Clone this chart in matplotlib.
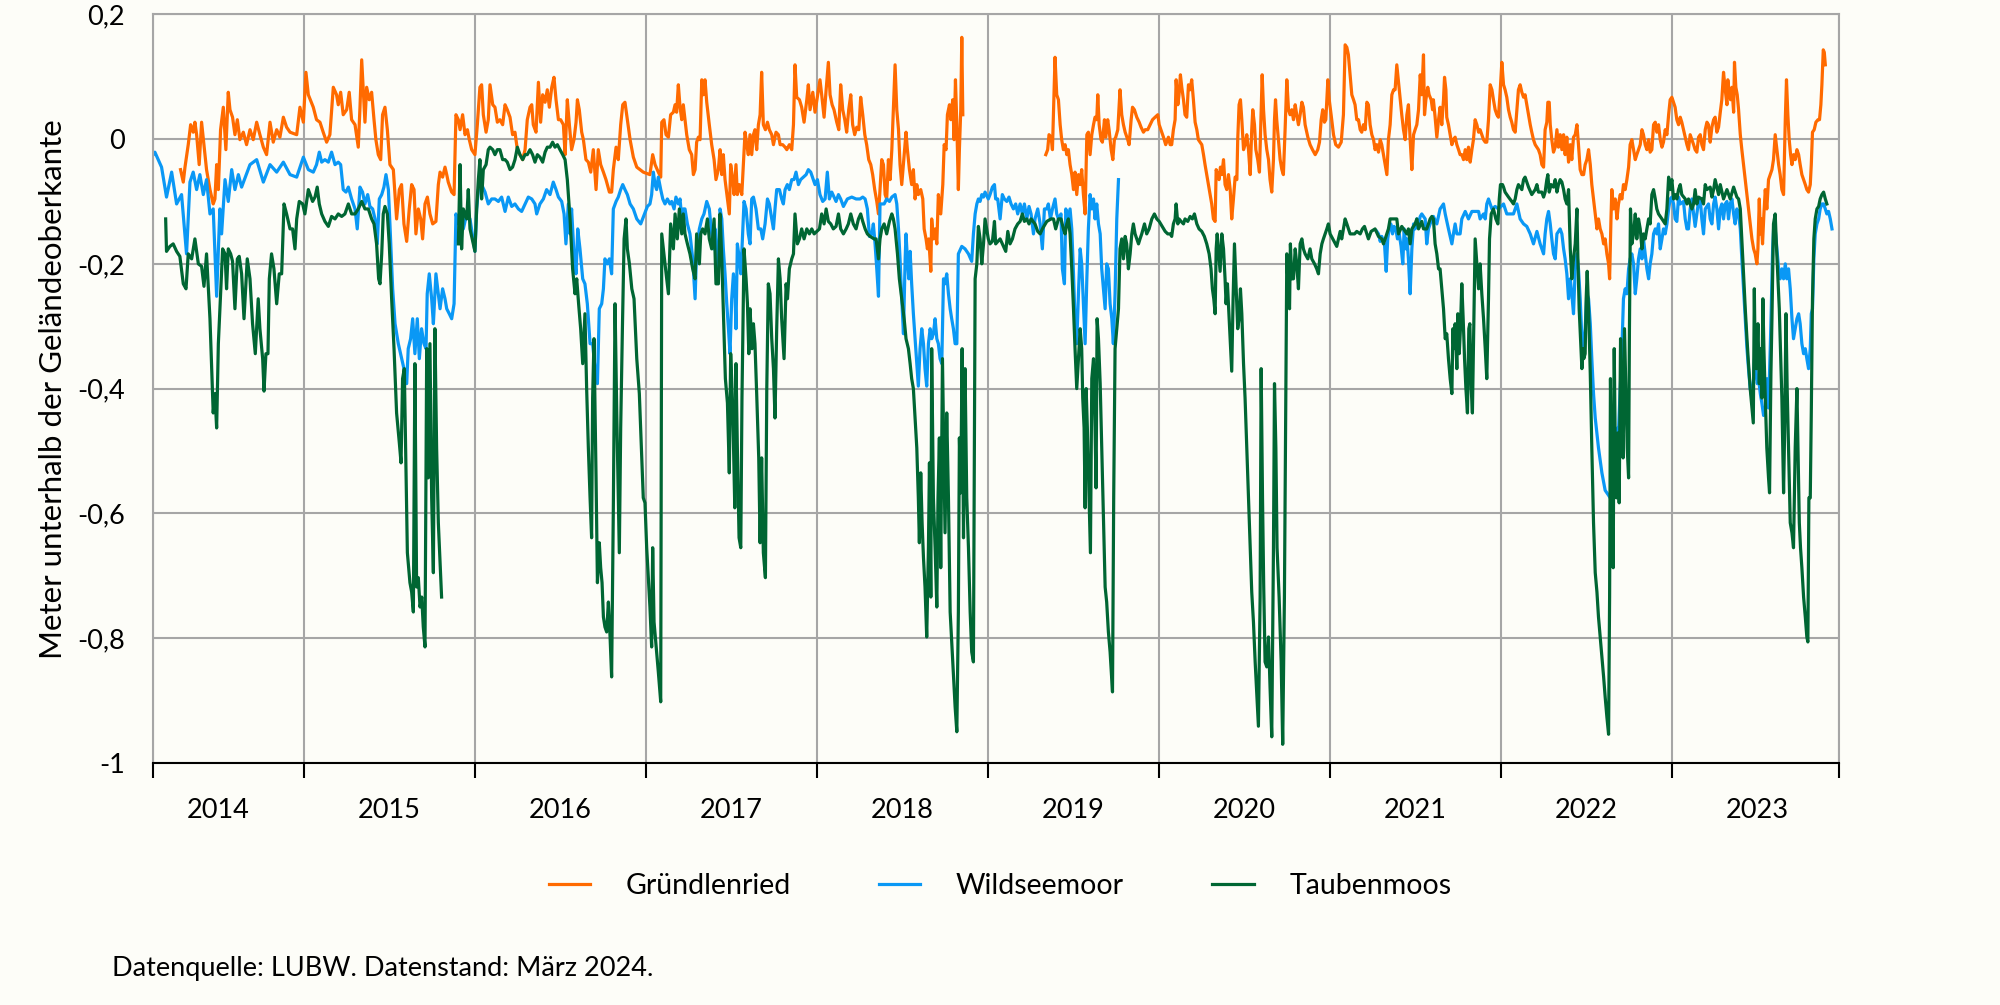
import numpy as np
import matplotlib
matplotlib.use("Agg")
import matplotlib.pyplot as plt

plt.rcParams['font.family'] = ['Lato', 'DejaVu Sans']

# (decimal year, metres); None = no data
gruendlenried = [
    (2014.281,-0.049),(2014.297,-0.069),(2014.307,-0.045),(2014.326,-0.009),(2014.340,0.023),(2014.355,0.011),
    (2014.365,0.027),(2014.375,0.007),(2014.390,-0.041),(2014.404,0.027),(2014.418,-0.009),(2014.433,-0.049),
    (2014.453,-0.081),(2014.472,-0.104),(2014.482,-0.096),(2014.492,-0.041),(2014.502,-0.081),(2014.515,0.015),
    (2014.531,0.051),(2014.546,-0.017),(2014.560,0.075),(2014.570,0.047),(2014.585,0.035),(2014.599,0.007),
    (2014.613,0.031),(2014.628,-0.001),(2014.648,0.011),(2014.667,-0.009),(2014.687,0.015),(2014.706,-0.001),
    (2014.726,0.027),(2014.745,0.007),(2014.765,-0.013),(2014.784,-0.025),(2014.804,0.027),(2014.823,-0.005),
    (2014.843,0.015),(2014.862,0.003),(2014.882,0.035),(2014.901,0.019),(2014.921,0.011),(2014.960,0.007),
    (2014.979,0.051),(2014.999,0.027),(2015.014,0.107),(2015.028,0.071),
    (2015.057,0.051),(2015.076,0.031),(2015.096,0.027),(2015.115,0.011),(2015.135,-0.005),(2015.154,0.007),
    (2015.174,0.083),(2015.193,0.071),(2015.203,0.055),(2015.217,0.075),(2015.232,0.039),(2015.252,0.047),
    (2015.267,0.075),(2015.281,0.031),(2015.301,0.023),(2015.320,-0.013),(2015.330,0.051),(2015.340,0.127),
    (2015.349,0.079),(2015.359,0.027),(2015.369,0.083),(2015.384,0.063),(2015.398,0.075),(2015.412,0.031),
    (2015.423,-0.001),(2015.437,-0.025),(2015.451,-0.033),(2015.462,0.039),(2015.476,0.051),(2015.490,0.015),
    (2015.505,-0.041),(2015.525,-0.049),(2015.544,-0.128),(2015.560,-0.081),(2015.573,-0.073),(2015.587,-0.136),
    (2015.603,-0.164),(2015.618,-0.112),(2015.632,-0.073),(2015.646,-0.081),(2015.657,-0.152),(2015.671,-0.112),
    (2015.685,-0.128),(2015.696,-0.160),(2015.710,-0.104),(2015.724,-0.093),(2015.739,-0.120),(2015.755,-0.136),
    (2015.774,-0.132),(2015.788,-0.073),(2015.798,-0.053),(2015.813,-0.061),(2015.827,-0.045),(2015.837,-0.057),
    (2015.846,-0.069),(2015.866,-0.085),(2015.880,-0.089),(2015.891,0.039),(2015.905,0.031),(2015.915,0.015),
    (2015.930,0.039),(2015.944,0.007),(2015.958,0.015),(2015.969,-0.001),(2015.983,-0.017),
    (2016.002,-0.025),(2016.016,0.023),(2016.031,0.083),(2016.041,0.087),(2016.051,0.039),(2016.067,0.011),
    (2016.080,0.031),(2016.090,0.087),(2016.106,0.055),(2016.119,0.051),(2016.133,0.027),(2016.148,0.031),
    (2016.164,0.023),(2016.178,0.055),(2016.191,0.047),(2016.207,0.035),(2016.222,0.007),(2016.236,0.011),
    (2016.250,-0.017),(2016.265,-0.025),(2016.281,-0.033),(2016.295,-0.017),(2016.308,0.031),(2016.324,0.051),
    (2016.334,0.055),(2016.343,0.023),(2016.359,0.011),(2016.373,0.091),(2016.386,0.027),(2016.398,0.071),
    (2016.412,0.059),(2016.425,0.079),(2016.437,0.051),(2016.451,0.083),(2016.464,0.099),(2016.476,0.063),
    (2016.490,0.031),(2016.503,0.031),(2016.519,0.023),(2016.529,-0.025),(2016.542,0.063),(2016.554,0.023),
    (2016.567,-0.017),(2016.581,-0.001),(2016.593,0.027),(2016.601,0.063),(2016.612,0.047),(2016.626,0.011),
    (2016.636,-0.001),(2016.651,-0.033),(2016.665,-0.037),(2016.679,-0.053),(2016.694,-0.017),(2016.710,-0.081),
    (2016.723,-0.017),(2016.737,-0.041),(2016.753,-0.053),(2016.768,-0.065),(2016.788,-0.085),(2016.801,-0.085),
    (2016.811,-0.049),(2016.827,-0.013),(2016.840,-0.033),(2016.854,0.023),(2016.866,0.055),(2016.879,0.059),
    (2016.893,0.031),(2016.909,-0.001),(2016.928,-0.029),(2016.948,-0.045),(2016.967,-0.049),(2016.986,-0.053),
    (2017.025,-0.057),(2017.041,-0.025),(2017.055,-0.041),(2017.074,-0.053),(2017.088,-0.061),(2017.094,0.027),
    (2017.107,0.031),(2017.119,0.007),(2017.133,0.003),(2017.146,0.039),(2017.162,0.043),(2017.172,0.055),
    (2017.181,0.043),(2017.191,0.087),(2017.201,0.051),(2017.211,0.031),(2017.220,0.055),(2017.230,0.031),
    (2017.240,0.007),(2017.255,-0.017),(2017.269,-0.025),(2017.279,-0.057),(2017.289,-0.049),(2017.298,-0.005),
    (2017.308,0.003),(2017.318,-0.001),(2017.328,0.095),(2017.337,0.071),(2017.347,0.095),(2017.357,0.059),
    (2017.372,0.023),(2017.386,-0.009),(2017.400,-0.033),(2017.411,-0.065),(2017.425,-0.049),(2017.435,-0.017),
    (2017.445,-0.057),(2017.454,-0.025),(2017.464,-0.065),(2017.478,-0.096),(2017.489,-0.120),(2017.497,-0.041),
    (2017.509,-0.065),(2017.517,-0.089),(2017.528,-0.041),(2017.536,-0.089),(2017.548,-0.073),(2017.562,-0.089),
    (2017.571,-0.041),(2017.581,0.011),(2017.591,-0.009),(2017.600,-0.025),(2017.610,0.007),(2017.620,-0.025),
    (2017.630,0.007),(2017.639,0.015),(2017.649,-0.017),(2017.659,0.023),(2017.669,0.039),(2017.678,0.107),
    (2017.688,0.023),(2017.700,0.015),(2017.712,0.027),(2017.723,0.015),(2017.737,0.007),(2017.747,-0.009),
    (2017.762,0.011),(2017.776,0.007),(2017.786,-0.009),(2017.801,-0.009),(2017.815,-0.013),(2017.825,-0.017),
    (2017.840,-0.009),(2017.854,-0.017),(2017.864,0.023),(2017.873,0.119),(2017.883,0.067),(2017.899,0.063),
    (2017.912,0.051),(2017.926,0.027),(2017.942,0.063),(2017.951,0.087),(2017.961,0.047),(2017.977,0.075),
    (2017.990,0.043),
    (2018.019,0.095),(2018.029,0.071),(2018.043,0.035),(2018.055,0.079),(2018.068,0.123),(2018.078,0.071),
    (2018.090,0.055),(2018.101,0.047),(2018.117,0.027),(2018.129,0.015),(2018.140,0.087),(2018.152,0.047),
    (2018.164,0.031),(2018.175,0.011),(2018.187,0.047),(2018.199,0.071),(2018.210,0.023),(2018.222,0.007),
    (2018.234,0.019),(2018.246,0.015),(2018.257,0.067),(2018.269,0.039),(2018.281,0.007),(2018.292,-0.009),
    (2018.304,-0.033),(2018.316,-0.041),(2018.327,-0.057),(2018.339,-0.081),(2018.351,-0.100),(2018.361,-0.120),
    (2018.370,-0.081),(2018.380,-0.033),(2018.390,-0.041),(2018.400,-0.089),(2018.409,-0.096),(2018.419,-0.033),
    (2018.429,-0.065),(2018.439,-0.017),(2018.448,0.047),(2018.458,0.119),(2018.468,0.047),(2018.478,0.015),
    (2018.487,-0.041),(2018.497,-0.073),(2018.511,-0.025),(2018.522,0.011),(2018.530,-0.017),(2018.542,-0.049),
    (2018.555,-0.073),(2018.565,-0.049),(2018.575,-0.096),(2018.585,-0.073),(2018.594,-0.089),(2018.608,-0.081),
    (2018.620,-0.096),(2018.628,-0.144),(2018.639,-0.160),(2018.647,-0.176),(2018.655,-0.160),(2018.667,-0.212),
    (2018.672,-0.128),(2018.682,-0.160),(2018.692,-0.144),(2018.702,-0.168),(2018.711,-0.089),(2018.725,-0.120),
    (2018.737,-0.073),(2018.745,-0.009),(2018.756,-0.017),(2018.764,0.039),(2018.776,0.055),(2018.784,0.031),
    (2018.795,0.063),(2018.803,-0.001),(2018.811,0.095),(2018.819,0.023),(2018.828,-0.081),(2018.834,-0.017),
    (2018.842,0.047),(2018.848,0.163),(2018.854,0.039),
    (2018.900,None),
    (2019.339,-0.025),(2019.350,-0.017),(2019.358,0.007),(2019.370,0.003),(2019.378,-0.017),(2019.386,0.063),
    (2019.393,0.131),(2019.403,0.071),(2019.413,0.063),(2019.423,0.023),(2019.432,-0.001),(2019.442,-0.017),
    (2019.452,-0.009),(2019.462,-0.025),(2019.471,-0.017),(2019.481,-0.041),(2019.491,-0.057),(2019.501,-0.081),
    (2019.510,-0.053),(2019.520,-0.089),(2019.530,-0.057),(2019.540,-0.073),(2019.549,-0.049),(2019.559,-0.089),
    (2019.569,-0.120),(2019.579,0.007),(2019.588,0.011),(2019.598,-0.025),(2019.608,0.007),(2019.618,0.023),
    (2019.627,0.035),(2019.637,0.031),(2019.643,0.071),(2019.651,0.023),(2019.662,-0.001),(2019.670,-0.005),
    (2019.682,0.031),(2019.690,0.003),(2019.701,0.031),(2019.709,0.015),(2019.721,-0.017),(2019.731,-0.033),
    (2019.740,-0.001),(2019.748,0.003),(2019.760,0.015),(2019.773,0.079),(2019.783,0.039),(2019.793,0.023),
    (2019.803,0.011),(2019.818,-0.001),(2019.826,-0.009),(2019.838,0.031),(2019.846,0.051),(2019.857,0.047),
    (2019.871,0.035),(2019.885,0.027),(2019.896,0.019),(2019.910,0.011),(2019.920,0.015),(2019.935,0.015),
    (2019.949,0.023),(2019.963,0.031),(2019.978,0.035),(2019.994,0.039),(2020.002,0.023),(2020.017,0.011),
    (2020.027,0.003),(2020.040,-0.009),(2020.056,0.003),(2020.066,-0.009),(2020.075,-0.009),(2020.085,0.015),
    (2020.095,0.031),(2020.101,0.095),(2020.111,0.055),(2020.118,0.071),(2020.126,0.103),(2020.134,0.083),
    (2020.144,0.063),(2020.153,0.039),(2020.163,0.035),(2020.173,0.087),(2020.183,0.079),(2020.192,0.095),
    (2020.202,0.063),(2020.212,0.027),(2020.222,0.015),(2020.231,-0.001),(2020.251,-0.009),(2020.261,-0.025),
    (2020.270,-0.041),(2020.280,-0.057),(2020.290,-0.073),(2020.300,-0.089),(2020.309,-0.104),(2020.319,-0.128),
    (2020.329,-0.132),(2020.335,-0.049),(2020.344,-0.057),(2020.352,-0.065),(2020.360,-0.045),(2020.368,-0.057),
    (2020.378,-0.033),(2020.387,-0.073),(2020.397,-0.081),(2020.407,-0.057),(2020.417,-0.081),(2020.426,-0.128),
    (2020.436,-0.096),(2020.446,-0.061),(2020.456,-0.065),(2020.461,-0.001),(2020.469,0.055),(2020.477,0.063),
    (2020.485,0.031),(2020.495,-0.017),(2020.504,-0.009),(2020.514,0.007),(2020.524,-0.017),(2020.534,-0.057),
    (2020.543,0.015),(2020.549,0.047),(2020.559,0.023),(2020.567,-0.017),(2020.578,-0.033),(2020.588,-0.053),
    (2020.598,0.047),(2020.604,0.103),(2020.612,0.047),(2020.621,0.007),(2020.631,-0.017),(2020.641,-0.033),
    (2020.650,-0.065),(2020.660,-0.085),(2020.670,-0.033),(2020.676,0.031),(2020.682,0.063),(2020.689,0.031),
    (2020.699,-0.001),(2020.709,-0.033),(2020.719,-0.049),(2020.728,-0.057),(2020.738,0.015),(2020.748,0.095),
    (2020.758,0.047),(2020.767,0.039),(2020.777,0.047),(2020.787,0.031),(2020.797,0.055),(2020.806,0.039),
    (2020.816,0.023),(2020.826,0.039),(2020.836,0.059),(2020.845,0.051),(2020.855,0.023),(2020.871,0.003),
    (2020.884,-0.009),(2020.898,-0.017),(2020.914,-0.025),(2020.929,-0.017),(2020.939,-0.005),(2020.949,0.031),
    (2020.958,0.047),(2020.968,0.027),(2020.976,0.031),(2020.988,0.095),(2020.996,0.063),(2021.007,0.039),
    (2021.021,0.007),(2021.034,-0.009),(2021.050,-0.013),(2021.066,-0.005),(2021.079,0.039),(2021.089,0.151),
    (2021.099,0.147),(2021.108,0.135),(2021.118,0.103),(2021.128,0.071),(2021.138,0.063),(2021.147,0.055),
    (2021.157,0.031),(2021.167,0.031),(2021.177,0.015),(2021.186,0.011),(2021.196,0.023),(2021.206,0.015),
    (2021.216,0.059),(2021.225,0.055),(2021.235,0.023),(2021.245,0.007),(2021.255,-0.001),(2021.264,-0.017),
    (2021.274,-0.009),(2021.284,-0.021),(2021.294,-0.001),(2021.303,-0.009),(2021.313,-0.025),(2021.323,-0.041),
    (2021.333,-0.057),(2021.342,-0.001),(2021.352,0.023),(2021.362,0.071),(2021.372,0.079),(2021.381,0.079),
    (2021.391,0.119),(2021.401,0.091),(2021.411,0.063),(2021.420,0.039),(2021.430,0.015),(2021.440,-0.001),
    (2021.450,0.039),(2021.459,0.055),(2021.469,-0.001),(2021.479,-0.049),(2021.489,0.007),(2021.498,0.015),
    (2021.508,0.023),(2021.518,0.047),(2021.528,0.103),(2021.537,0.071),(2021.547,0.135),(2021.553,0.039),
    (2021.561,0.063),(2021.572,0.083),(2021.580,0.071),(2021.592,0.063),(2021.600,0.047),(2021.605,0.063),
    (2021.615,0.035),(2021.625,0.003),(2021.635,0.031),(2021.644,0.051),(2021.654,0.023),(2021.664,0.063),
    (2021.670,0.099),(2021.678,0.079),(2021.683,0.035),(2021.693,0.023),(2021.703,0.007),(2021.713,-0.009),
    (2021.722,-0.001),(2021.732,0.003),(2021.742,-0.009),(2021.752,-0.017),(2021.761,-0.025),(2021.771,-0.025),
    (2021.781,-0.033),(2021.791,-0.017),(2021.800,-0.033),(2021.810,-0.013),(2021.820,-0.037),(2021.830,-0.017),
    (2021.839,-0.001),(2021.849,0.031),(2021.859,0.023),(2021.869,0.011),(2021.878,0.015),(2021.888,0.007),
    (2021.898,-0.001),(2021.908,-0.005),(2021.917,-0.005),(2021.927,0.031),(2021.937,0.087),(2021.947,0.079),
    (2021.956,0.063),(2021.966,0.047),(2021.976,0.039),(2021.985,0.035),(2021.995,0.075),(2022.005,0.123),
    (2022.015,0.087),(2022.024,0.079),(2022.034,0.067),(2022.044,0.047),(2022.054,0.035),(2022.063,0.027),
    (2022.073,0.015),(2022.083,0.011),(2022.093,0.047),(2022.102,0.079),(2022.112,0.087),(2022.122,0.075),
    (2022.132,0.067),(2022.141,0.071),(2022.151,0.055),(2022.161,0.039),(2022.171,0.023),(2022.180,0.011),
    (2022.190,-0.001),(2022.200,-0.009),(2022.219,-0.017),(2022.229,-0.025),(2022.239,-0.041),(2022.249,-0.045),
    (2022.258,0.015),(2022.268,0.027),(2022.274,0.059),(2022.282,0.059),(2022.288,0.023),(2022.297,-0.001),
    (2022.307,-0.021),(2022.317,-0.013),(2022.327,0.015),(2022.336,-0.013),(2022.346,0.007),(2022.356,-0.017),
    (2022.366,0.007),(2022.375,-0.025),(2022.385,0.003),(2022.395,-0.037),(2022.405,-0.009),(2022.414,-0.033),
    (2022.424,0.003),(2022.434,0.007),(2022.444,0.023),(2022.453,-0.009),(2022.463,-0.049),(2022.473,-0.057),
    (2022.483,-0.057),(2022.492,-0.041),(2022.502,-0.033),(2022.512,-0.017),(2022.522,-0.041),(2022.531,-0.073),
    (2022.541,-0.096),(2022.551,-0.120),(2022.561,-0.144),(2022.570,-0.128),(2022.580,-0.144),(2022.590,-0.152),
    (2022.600,-0.168),(2022.609,-0.160),(2022.619,-0.184),(2022.629,-0.200),(2022.635,-0.224),(2022.643,-0.128),
    (2022.648,-0.081),(2022.658,-0.112),(2022.668,-0.096),(2022.678,-0.128),(2022.687,-0.104),(2022.697,-0.089),
    (2022.707,-0.096),(2022.716,-0.073),(2022.726,-0.081),(2022.736,-0.065),(2022.746,-0.045),(2022.755,-0.009),
    (2022.765,-0.001),(2022.775,-0.017),(2022.785,-0.033),(2022.794,-0.025),(2022.804,-0.017),(2022.814,-0.009),
    (2022.824,0.015),(2022.833,0.007),(2022.843,-0.009),(2022.853,-0.017),(2022.863,-0.001),(2022.872,-0.021),
    (2022.882,-0.017),(2022.892,0.023),(2022.902,0.027),(2022.911,0.011),(2022.921,0.023),(2022.931,-0.001),
    (2022.941,-0.013),(2022.950,-0.005),(2022.960,0.015),(2022.970,0.007),(2022.980,0.039),(2022.989,0.063),
    (2022.999,0.067),(2023.018,0.051),(2023.028,0.031),(2023.038,0.023),(2023.048,0.035),(2023.057,0.027),
    (2023.067,0.015),(2023.077,0.003),(2023.087,-0.009),(2023.096,-0.017),(2023.106,0.007),(2023.116,-0.001),
    (2023.126,-0.009),(2023.135,-0.017),(2023.145,-0.021),(2023.155,0.003),(2023.165,0.007),(2023.174,-0.009),
    (2023.184,-0.017),(2023.194,0.015),(2023.204,0.027),(2023.213,0.023),(2023.223,-0.005),(2023.233,0.019),
    (2023.243,0.031),(2023.252,0.035),(2023.262,0.011),(2023.272,0.019),(2023.282,0.043),(2023.291,0.063),
    (2023.301,0.107),(2023.311,0.079),(2023.321,0.055),(2023.326,0.095),(2023.334,0.075),(2023.342,0.063),
    (2023.350,0.083),(2023.360,0.043),(2023.365,0.123),(2023.373,0.083),(2023.381,0.071),(2023.389,0.047),
    (2023.399,0.007),(2023.408,-0.017),(2023.418,-0.041),(2023.428,-0.065),(2023.438,-0.089),(2023.447,-0.112),
    (2023.457,-0.136),(2023.467,-0.160),(2023.477,-0.176),(2023.486,-0.184),(2023.496,-0.200),(2023.502,-0.176),
    (2023.510,-0.096),(2023.516,-0.152),(2023.521,-0.128),(2023.529,-0.168),(2023.537,-0.120),(2023.545,-0.081),
    (2023.554,-0.112),(2023.564,-0.065),(2023.574,-0.057),(2023.584,-0.049),(2023.593,-0.033),(2023.603,0.007),
    (2023.613,-0.017),(2023.623,-0.041),(2023.632,-0.057),(2023.642,-0.081),(2023.652,-0.089),(2023.662,0.031),
    (2023.669,0.095),(2023.677,0.039),(2023.685,-0.001),(2023.693,-0.025),(2023.701,-0.041),(2023.710,-0.025),
    (2023.720,-0.033),(2023.730,-0.017),(2023.740,-0.025),(2023.749,-0.041),(2023.759,-0.057),(2023.769,-0.065),
    (2023.779,-0.073),(2023.788,-0.081),(2023.798,-0.085),(2023.808,-0.073),(2023.814,-0.041),(2023.821,0.011),
    (2023.831,0.015),(2023.841,0.027),(2023.853,0.031),(2023.862,0.031),(2023.870,0.055),(2023.876,0.087),
    (2023.884,0.143),(2023.890,0.139),(2023.896,0.119),
]

wildseemoor = [
    (2014.112,-0.029),(2014.131,-0.021),(2014.170,-0.045),(2014.199,-0.093),(2014.229,-0.053),(2014.258,-0.104),
    (2014.287,-0.089),(2014.316,-0.184),(2014.336,-0.069),(2014.355,-0.053),(2014.375,-0.081),(2014.394,-0.057),
    (2014.414,-0.089),(2014.433,-0.065),(2014.453,-0.120),(2014.472,-0.112),(2014.492,-0.252),(2014.511,-0.112),
    (2014.521,-0.152),(2014.541,-0.065),(2014.560,-0.100),(2014.580,-0.049),(2014.599,-0.081),(2014.619,-0.057),
    (2014.638,-0.077),(2014.687,-0.041),(2014.726,-0.033),(2014.765,-0.069),(2014.804,-0.041),(2014.843,-0.053),
    (2014.882,-0.037),(2014.921,-0.057),(2014.960,-0.061),(2014.999,-0.029),(2015.028,-0.049),
    (2015.057,-0.053),(2015.076,-0.041),(2015.092,-0.021),(2015.106,-0.037),(2015.125,-0.033),(2015.145,-0.037),
    (2015.164,-0.021),(2015.184,-0.041),(2015.203,-0.037),(2015.217,-0.041),(2015.232,-0.081),(2015.248,-0.085),
    (2015.262,-0.077),(2015.281,-0.096),(2015.301,-0.112),(2015.314,-0.144),(2015.330,-0.077),(2015.345,-0.085),
    (2015.359,-0.104),(2015.375,-0.089),(2015.388,-0.108),(2015.404,-0.112),(2015.418,-0.128),(2015.431,-0.168),
    (2015.443,-0.096),(2015.457,-0.089),(2015.470,-0.077),(2015.482,-0.057),(2015.496,-0.081),(2015.505,-0.136),
    (2015.521,-0.240),(2015.535,-0.296),(2015.554,-0.328),(2015.574,-0.352),(2015.587,-0.368),(2015.603,-0.392),
    (2015.612,-0.336),(2015.626,-0.320),(2015.638,-0.288),(2015.651,-0.344),(2015.665,-0.288),(2015.677,-0.352),
    (2015.690,-0.304),(2015.704,-0.328),(2015.716,-0.336),(2015.723,-0.248),(2015.735,-0.216),(2015.749,-0.256),
    (2015.759,-0.296),(2015.774,-0.216),(2015.788,-0.248),(2015.798,-0.272),(2015.813,-0.240),(2015.827,-0.256),
    (2015.837,-0.272),(2015.852,-0.280),(2015.866,-0.288),(2015.880,-0.264),(2015.891,-0.120),(2015.905,-0.136),
    (2015.919,-0.120),(2015.934,-0.144),(2015.954,-0.120),(2015.973,-0.128),
    (2016.002,-0.180),(2016.012,-0.112),(2016.022,-0.081),(2016.041,-0.073),(2016.061,-0.085),(2016.080,-0.104),
    (2016.100,-0.096),(2016.119,-0.096),(2016.139,-0.100),(2016.158,-0.093),(2016.178,-0.116),(2016.197,-0.093),
    (2016.217,-0.108),(2016.236,-0.104),(2016.256,-0.112),(2016.275,-0.116),(2016.295,-0.104),(2016.314,-0.093),
    (2016.334,-0.096),(2016.353,-0.104),(2016.363,-0.120),(2016.382,-0.104),(2016.402,-0.096),(2016.421,-0.081),
    (2016.441,-0.089),(2016.460,-0.069),(2016.476,-0.081),(2016.490,-0.093),(2016.509,-0.100),(2016.523,-0.120),
    (2016.534,-0.168),(2016.548,-0.104),(2016.558,-0.152),(2016.567,-0.112),(2016.581,-0.184),(2016.593,-0.216),
    (2016.603,-0.144),(2016.616,-0.176),(2016.632,-0.224),(2016.645,-0.232),(2016.659,-0.264),(2016.675,-0.328),
    (2016.690,-0.328),(2016.704,-0.368),(2016.718,-0.392),(2016.729,-0.272),(2016.743,-0.264),(2016.753,-0.240),
    (2016.762,-0.192),(2016.776,-0.200),(2016.788,-0.192),(2016.801,-0.216),(2016.811,-0.112),(2016.827,-0.100),
    (2016.840,-0.093),(2016.854,-0.081),(2016.866,-0.073),(2016.879,-0.081),(2016.893,-0.089),(2016.909,-0.104),
    (2016.928,-0.112),(2016.948,-0.128),(2016.971,-0.136),
    (2017.010,-0.108),(2017.025,-0.104),(2017.035,-0.089),(2017.045,-0.053),(2017.055,-0.073),(2017.064,-0.081),
    (2017.074,-0.061),(2017.088,-0.081),(2017.100,-0.096),(2017.113,-0.104),(2017.127,-0.096),(2017.142,-0.104),
    (2017.152,-0.100),(2017.166,-0.112),(2017.177,-0.093),(2017.191,-0.104),(2017.201,-0.096),(2017.211,-0.128),
    (2017.220,-0.112),(2017.230,-0.112),(2017.244,-0.136),(2017.259,-0.152),(2017.275,-0.192),(2017.289,-0.256),
    (2017.298,-0.176),(2017.314,-0.144),(2017.328,-0.128),(2017.341,-0.120),(2017.357,-0.100),(2017.372,-0.112),
    (2017.386,-0.152),(2017.396,-0.176),(2017.406,-0.144),(2017.415,-0.216),(2017.425,-0.176),(2017.435,-0.112),
    (2017.445,-0.128),(2017.454,-0.176),(2017.464,-0.216),(2017.474,-0.264),(2017.484,-0.304),(2017.493,-0.344),
    (2017.503,-0.256),(2017.513,-0.216),(2017.523,-0.256),(2017.528,-0.304),(2017.536,-0.168),(2017.548,-0.192),
    (2017.556,-0.216),(2017.563,-0.176),(2017.575,-0.100),(2017.587,-0.112),(2017.600,-0.152),(2017.610,-0.168),
    (2017.620,-0.096),(2017.630,-0.093),(2017.645,-0.112),(2017.659,-0.144),(2017.673,-0.144),(2017.684,-0.160),
    (2017.698,-0.136),(2017.712,-0.096),(2017.723,-0.104),(2017.737,-0.128),(2017.747,-0.144),(2017.756,-0.112),
    (2017.766,-0.081),(2017.782,-0.081),(2017.795,-0.096),(2017.805,-0.104),(2017.815,-0.081),(2017.828,-0.073),
    (2017.840,-0.081),(2017.854,-0.065),(2017.867,-0.065),(2017.879,-0.053),(2017.893,-0.073),(2017.906,-0.065),
    (2017.922,-0.061),(2017.938,-0.057),(2017.951,-0.049),(2017.965,-0.053),(2017.990,-0.073),
    (2018.004,-0.065),(2018.019,-0.089),(2018.035,-0.100),(2018.049,-0.096),(2018.062,-0.053),(2018.074,-0.096),
    (2018.088,-0.085),(2018.101,-0.093),(2018.113,-0.100),(2018.127,-0.089),(2018.140,-0.096),(2018.156,-0.108),
    (2018.179,-0.096),(2018.205,-0.093),(2018.230,-0.096),(2018.253,-0.096),(2018.269,-0.093),(2018.283,-0.096),
    (2018.296,-0.112),(2018.308,-0.156),(2018.322,-0.152),(2018.331,-0.136),(2018.341,-0.168),(2018.351,-0.208),
    (2018.361,-0.252),(2018.370,-0.104),(2018.394,-0.104),(2018.409,-0.096),(2018.425,-0.100),(2018.439,-0.093),
    (2018.458,-0.089),(2018.468,-0.104),(2018.478,-0.144),(2018.487,-0.192),(2018.497,-0.256),(2018.507,-0.312),
    (2018.517,-0.192),(2018.522,-0.152),(2018.530,-0.192),(2018.538,-0.224),(2018.546,-0.180),(2018.555,-0.232),
    (2018.565,-0.280),(2018.575,-0.320),(2018.585,-0.360),(2018.594,-0.396),(2018.604,-0.336),(2018.614,-0.304),
    (2018.624,-0.328),(2018.633,-0.368),(2018.643,-0.396),(2018.653,-0.328),(2018.663,-0.304),(2018.672,-0.320),
    (2018.682,-0.312),(2018.692,-0.288),(2018.702,-0.320),(2018.711,-0.328),(2018.721,-0.352),(2018.731,-0.360),
    (2018.741,-0.224),(2018.750,-0.232),(2018.760,-0.216),(2018.770,-0.248),(2018.780,-0.272),(2018.789,-0.288),
    (2018.799,-0.304),(2018.809,-0.328),(2018.819,-0.328),(2018.828,-0.184),(2018.848,-0.172),(2018.867,-0.176),
    (2018.887,-0.184),(2018.906,-0.196),(2018.916,-0.152),(2018.926,-0.120),(2018.936,-0.104),(2018.945,-0.096),
    (2018.955,-0.100),(2018.965,-0.089),(2018.975,-0.093),(2018.984,-0.085),
    (2019.003,-0.096),(2019.013,-0.089),(2019.027,-0.077),(2019.039,-0.073),(2019.046,-0.096),(2019.058,-0.096),
    (2019.072,-0.128),(2019.085,-0.089),(2019.097,-0.096),(2019.111,-0.100),(2019.124,-0.093),(2019.136,-0.104),
    (2019.150,-0.112),(2019.163,-0.104),(2019.175,-0.120),(2019.189,-0.104),(2019.202,-0.120),(2019.214,-0.104),
    (2019.228,-0.128),(2019.241,-0.108),(2019.253,-0.120),(2019.267,-0.152),(2019.276,-0.128),(2019.292,-0.112),
    (2019.306,-0.136),(2019.319,-0.176),(2019.331,-0.112),(2019.345,-0.112),(2019.354,-0.104),(2019.366,-0.128),
    (2019.378,-0.112),(2019.393,-0.096),(2019.403,-0.120),(2019.413,-0.128),(2019.428,-0.120),(2019.436,-0.208),
    (2019.448,-0.232),(2019.456,-0.112),(2019.467,-0.128),(2019.481,-0.112),(2019.491,-0.144),(2019.501,-0.216),
    (2019.510,-0.288),(2019.520,-0.328),(2019.530,-0.248),(2019.540,-0.176),(2019.549,-0.200),(2019.559,-0.264),
    (2019.569,-0.328),(2019.579,-0.224),(2019.588,-0.144),(2019.598,-0.089),(2019.608,-0.112),(2019.618,-0.096),
    (2019.627,-0.128),(2019.637,-0.104),(2019.647,-0.136),(2019.657,-0.152),(2019.666,-0.208),(2019.676,-0.240),
    (2019.686,-0.272),(2019.695,-0.200),(2019.705,-0.208),(2019.715,-0.264),(2019.725,-0.288),(2019.734,-0.328),
    (2019.744,-0.248),(2019.754,-0.128),(2019.764,-0.065),
    (2019.800,None),
    (2021.274,-0.148),(2021.284,-0.152),(2021.294,-0.164),(2021.303,-0.156),(2021.319,-0.168),(2021.329,-0.212),
    (2021.338,-0.160),(2021.346,-0.144),(2021.356,-0.136),(2021.366,-0.152),(2021.375,-0.140),(2021.385,-0.144),
    (2021.395,-0.160),(2021.405,-0.152),(2021.416,-0.172),(2021.426,-0.200),(2021.434,-0.144),(2021.444,-0.176),
    (2021.451,-0.160),(2021.459,-0.192),(2021.469,-0.248),(2021.479,-0.176),(2021.489,-0.136),(2021.498,-0.144),
    (2021.508,-0.128),(2021.518,-0.136),(2021.528,-0.124),(2021.537,-0.120),(2021.557,-0.128),(2021.566,-0.168),
    (2021.576,-0.144),(2021.586,-0.136),(2021.605,-0.124),(2021.625,-0.136),(2021.644,-0.112),(2021.664,-0.104),
    (2021.674,-0.120),(2021.693,-0.144),(2021.713,-0.168),(2021.722,-0.152),(2021.732,-0.136),(2021.742,-0.152),
    (2021.761,-0.152),(2021.771,-0.128),(2021.791,-0.116),(2021.810,-0.128),(2021.830,-0.116),(2021.849,-0.116),
    (2021.869,-0.116),(2021.878,-0.128),(2021.898,-0.120),(2021.908,-0.128),(2021.917,-0.104),(2021.927,-0.096),
    (2021.947,-0.112),(2021.966,-0.108),(2021.985,-0.112),
    (2022.015,-0.104),(2022.034,-0.120),(2022.054,-0.120),(2022.073,-0.120),(2022.093,-0.104),(2022.112,-0.128),
    (2022.132,-0.136),(2022.151,-0.140),(2022.171,-0.152),(2022.190,-0.168),(2022.210,-0.148),(2022.229,-0.168),
    (2022.249,-0.184),(2022.258,-0.152),(2022.268,-0.128),(2022.278,-0.116),(2022.288,-0.136),(2022.297,-0.160),
    (2022.307,-0.184),(2022.317,-0.192),(2022.327,-0.152),(2022.346,-0.144),(2022.356,-0.152),(2022.366,-0.176),
    (2022.375,-0.192),(2022.385,-0.216),(2022.395,-0.256),(2022.405,-0.224),(2022.414,-0.248),(2022.424,-0.280),
    (2022.434,-0.208),(2022.444,-0.184),(2022.453,-0.208),(2022.463,-0.256),(2022.473,-0.320),(2022.483,-0.336),
    (2022.492,-0.304),(2022.502,-0.248),(2022.512,-0.256),(2022.522,-0.296),(2022.531,-0.352),(2022.541,-0.408),
    (2022.551,-0.447),(2022.570,-0.495),(2022.590,-0.535),(2022.609,-0.563),(2022.629,-0.571),(2022.638,-0.575),
    (2022.658,-0.567),(2022.668,-0.559),(2022.674,-0.487),(2022.681,-0.463),(2022.687,-0.471),(2022.697,-0.400),
    (2022.707,-0.336),(2022.716,-0.256),(2022.726,-0.240),(2022.736,-0.248),(2022.746,-0.208),(2022.755,-0.192),
    (2022.765,-0.184),(2022.775,-0.200),(2022.785,-0.248),(2022.794,-0.224),(2022.804,-0.192),(2022.814,-0.176),
    (2022.824,-0.192),(2022.833,-0.160),(2022.843,-0.184),(2022.853,-0.208),(2022.863,-0.224),(2022.872,-0.200),
    (2022.882,-0.184),(2022.892,-0.152),(2022.902,-0.144),(2022.911,-0.152),(2022.921,-0.136),(2022.931,-0.176),
    (2022.941,-0.160),(2022.950,-0.144),(2022.960,-0.152),(2022.970,-0.136),(2022.980,-0.112),(2022.989,-0.096),
    (2022.999,-0.093),
    (2023.009,-0.104),(2023.018,-0.128),(2023.028,-0.132),(2023.038,-0.093),(2023.048,-0.104),(2023.067,-0.100),
    (2023.077,-0.128),(2023.087,-0.144),(2023.096,-0.144),(2023.106,-0.112),(2023.116,-0.096),(2023.126,-0.120),
    (2023.135,-0.140),(2023.145,-0.120),(2023.155,-0.100),(2023.165,-0.096),(2023.174,-0.128),(2023.184,-0.152),
    (2023.194,-0.112),(2023.213,-0.104),(2023.223,-0.128),(2023.233,-0.136),(2023.243,-0.104),(2023.252,-0.093),
    (2023.262,-0.112),(2023.272,-0.144),(2023.282,-0.112),(2023.291,-0.104),(2023.301,-0.128),(2023.311,-0.104),
    (2023.321,-0.100),(2023.330,-0.128),(2023.340,-0.104),(2023.350,-0.096),(2023.360,-0.120),(2023.369,-0.136),
    (2023.379,-0.112),(2023.389,-0.120),(2023.399,-0.144),(2023.408,-0.192),(2023.418,-0.240),(2023.428,-0.288),
    (2023.438,-0.336),(2023.447,-0.368),(2023.457,-0.400),(2023.467,-0.415),(2023.477,-0.384),(2023.482,-0.352),
    (2023.490,-0.368),(2023.498,-0.392),(2023.506,-0.384),(2023.516,-0.408),(2023.525,-0.423),(2023.535,-0.443),
    (2023.545,-0.439),(2023.554,-0.384),(2023.564,-0.431),(2023.574,-0.336),(2023.580,-0.272),(2023.588,-0.176),
    (2023.595,-0.136),(2023.603,-0.144),(2023.613,-0.176),(2023.623,-0.208),(2023.632,-0.224),(2023.642,-0.208),
    (2023.652,-0.224),(2023.662,-0.200),(2023.671,-0.224),(2023.681,-0.208),(2023.691,-0.240),(2023.701,-0.288),
    (2023.710,-0.320),(2023.720,-0.304),(2023.730,-0.288),(2023.740,-0.280),(2023.749,-0.296),(2023.759,-0.328),
    (2023.769,-0.344),(2023.779,-0.336),(2023.788,-0.352),(2023.798,-0.368),(2023.808,-0.336),(2023.814,-0.280),
    (2023.821,-0.272),(2023.829,-0.192),(2023.837,-0.152),(2023.847,-0.136),(2023.857,-0.128),(2023.866,-0.112),
    (2023.876,-0.104),(2023.886,-0.104),(2023.896,-0.112),(2023.905,-0.120),(2023.915,-0.116),(2023.925,-0.128),
    (2023.935,-0.144),
]

taubenmoos = [
    (2014.194,-0.128),(2014.199,-0.180),(2014.219,-0.172),(2014.238,-0.168),(2014.258,-0.180),(2014.277,-0.188),
    (2014.297,-0.232),(2014.313,-0.240),(2014.326,-0.184),(2014.346,-0.192),(2014.365,-0.160),(2014.385,-0.200),
    (2014.404,-0.204),(2014.418,-0.236),(2014.433,-0.184),(2014.453,-0.288),(2014.472,-0.439),(2014.482,-0.408),
    (2014.492,-0.463),(2014.502,-0.328),(2014.515,-0.248),(2014.527,-0.176),(2014.541,-0.184),(2014.550,-0.240),
    (2014.560,-0.176),(2014.574,-0.184),(2014.585,-0.196),(2014.599,-0.272),(2014.613,-0.192),(2014.624,-0.188),
    (2014.638,-0.216),(2014.652,-0.288),(2014.671,-0.192),(2014.687,-0.224),(2014.702,-0.296),(2014.718,-0.344),
    (2014.735,-0.256),(2014.745,-0.304),(2014.761,-0.352),(2014.769,-0.404),(2014.780,-0.344),(2014.792,-0.344),
    (2014.800,-0.224),(2014.813,-0.184),(2014.827,-0.208),(2014.843,-0.264),(2014.858,-0.216),(2014.872,-0.216),
    (2014.886,-0.104),(2014.901,-0.120),(2014.921,-0.144),(2014.936,-0.144),(2014.950,-0.176),(2014.960,-0.128),
    (2014.975,-0.100),(2014.995,-0.104),(2015.008,-0.120),(2015.028,-0.081),
    (2015.053,-0.100),(2015.067,-0.093),(2015.080,-0.077),(2015.092,-0.104),(2015.106,-0.120),(2015.125,-0.132),
    (2015.145,-0.140),(2015.164,-0.124),(2015.184,-0.128),(2015.203,-0.120),(2015.223,-0.124),(2015.242,-0.120),
    (2015.262,-0.104),(2015.281,-0.120),(2015.301,-0.120),(2015.320,-0.112),(2015.340,-0.100),(2015.359,-0.112),
    (2015.379,-0.112),(2015.398,-0.128),(2015.412,-0.136),(2015.427,-0.168),(2015.439,-0.224),(2015.447,-0.232),
    (2015.457,-0.184),(2015.466,-0.120),(2015.476,-0.108),(2015.490,-0.120),(2015.501,-0.168),(2015.515,-0.256),
    (2015.529,-0.336),(2015.544,-0.439),(2015.560,-0.487),(2015.570,-0.519),(2015.579,-0.384),(2015.589,-0.368),
    (2015.599,-0.535),(2015.607,-0.663),(2015.622,-0.711),(2015.632,-0.726),(2015.642,-0.758),(2015.651,-0.360),
    (2015.661,-0.718),(2015.671,-0.703),(2015.681,-0.750),(2015.691,-0.734),(2015.700,-0.782),(2015.710,-0.814),
    (2015.720,-0.336),(2015.729,-0.543),(2015.739,-0.328),(2015.749,-0.575),(2015.759,-0.695),(2015.768,-0.304),
    (2015.778,-0.495),(2015.788,-0.615),(2015.798,-0.679),(2015.807,-0.734),
    (2015.850,None),
    (2015.905,-0.168),(2015.915,-0.041),(2015.924,-0.176),(2015.934,-0.112),(2015.954,-0.128),(2015.963,-0.081),
    (2015.973,-0.144),
    (2016.002,-0.180),(2016.012,-0.112),(2016.022,-0.065),(2016.031,-0.033),(2016.041,-0.096),(2016.051,-0.049),
    (2016.067,-0.041),(2016.080,-0.017),(2016.090,-0.013),(2016.106,-0.017),(2016.119,-0.025),(2016.133,-0.017),
    (2016.148,-0.017),(2016.164,-0.033),(2016.178,-0.033),(2016.191,-0.037),(2016.207,-0.049),(2016.222,-0.045),
    (2016.236,-0.033),(2016.250,-0.013),(2016.265,-0.025),(2016.281,-0.033),(2016.295,-0.025),(2016.308,-0.025),
    (2016.324,-0.017),(2016.339,-0.025),(2016.353,-0.037),(2016.367,-0.025),(2016.382,-0.029),(2016.398,-0.037),
    (2016.412,-0.021),(2016.425,-0.013),(2016.441,-0.013),(2016.456,-0.005),(2016.470,-0.013),(2016.484,-0.009),
    (2016.499,-0.017),(2016.515,-0.025),(2016.529,-0.033),(2016.542,-0.065),(2016.558,-0.128),(2016.573,-0.208),
    (2016.587,-0.248),(2016.597,-0.224),(2016.608,-0.264),(2016.620,-0.304),(2016.632,-0.360),(2016.645,-0.280),
    (2016.655,-0.400),(2016.665,-0.495),(2016.675,-0.575),(2016.684,-0.639),(2016.690,-0.415),(2016.698,-0.320),
    (2016.710,-0.543),(2016.718,-0.711),(2016.729,-0.647),(2016.737,-0.687),(2016.745,-0.711),(2016.753,-0.766),
    (2016.762,-0.782),(2016.772,-0.790),(2016.782,-0.742),(2016.792,-0.798),(2016.801,-0.862),(2016.811,-0.591),
    (2016.821,-0.264),(2016.831,-0.439),(2016.846,-0.663),(2016.854,-0.463),(2016.864,-0.304),(2016.874,-0.160),
    (2016.885,-0.128),(2016.893,-0.176),(2016.905,-0.200),(2016.919,-0.240),(2016.932,-0.256),(2016.948,-0.352),
    (2016.963,-0.408),(2016.986,-0.575),(2016.996,-0.583),
    (2017.006,-0.655),(2017.025,-0.750),(2017.035,-0.814),(2017.041,-0.655),(2017.049,-0.774),(2017.064,-0.822),
    (2017.074,-0.854),(2017.088,-0.902),(2017.094,-0.152),(2017.113,-0.200),(2017.133,-0.248),(2017.146,-0.136),
    (2017.162,-0.176),(2017.172,-0.120),(2017.185,-0.160),(2017.197,-0.112),(2017.211,-0.152),(2017.220,-0.120),
    (2017.230,-0.152),(2017.244,-0.168),(2017.259,-0.184),(2017.275,-0.208),(2017.289,-0.224),(2017.298,-0.152),
    (2017.314,-0.200),(2017.322,-0.152),(2017.333,-0.144),(2017.347,-0.152),(2017.361,-0.128),(2017.372,-0.160),
    (2017.386,-0.176),(2017.400,-0.128),(2017.411,-0.232),(2017.425,-0.232),(2017.435,-0.120),(2017.445,-0.192),
    (2017.454,-0.272),(2017.466,-0.384),(2017.478,-0.423),(2017.489,-0.535),(2017.497,-0.344),(2017.509,-0.431),
    (2017.521,-0.591),(2017.528,-0.360),(2017.536,-0.495),(2017.546,-0.639),(2017.556,-0.655),(2017.563,-0.415),
    (2017.575,-0.176),(2017.587,-0.224),(2017.595,-0.264),(2017.603,-0.344),(2017.610,-0.272),(2017.622,-0.336),
    (2017.630,-0.296),(2017.639,-0.328),(2017.649,-0.408),(2017.661,-0.511),(2017.669,-0.647),(2017.678,-0.511),
    (2017.688,-0.663),(2017.700,-0.703),(2017.708,-0.400),(2017.717,-0.232),(2017.727,-0.248),(2017.737,-0.320),
    (2017.747,-0.368),(2017.756,-0.447),(2017.766,-0.304),(2017.776,-0.192),(2017.786,-0.224),(2017.795,-0.288),
    (2017.809,-0.352),(2017.821,-0.232),(2017.829,-0.256),(2017.840,-0.208),(2017.854,-0.192),(2017.864,-0.184),
    (2017.873,-0.120),(2017.887,-0.168),(2017.899,-0.160),(2017.912,-0.144),(2017.926,-0.160),(2017.942,-0.144),
    (2017.957,-0.152),(2017.971,-0.144),(2017.985,-0.152),
    (2018.016,-0.144),(2018.029,-0.120),(2018.043,-0.136),(2018.055,-0.112),(2018.068,-0.132),(2018.082,-0.136),
    (2018.097,-0.144),(2018.113,-0.140),(2018.127,-0.120),(2018.140,-0.144),(2018.156,-0.152),(2018.172,-0.144),
    (2018.185,-0.136),(2018.199,-0.120),(2018.214,-0.136),(2018.230,-0.144),(2018.244,-0.128),(2018.257,-0.120),
    (2018.269,-0.132),(2018.283,-0.144),(2018.296,-0.152),(2018.312,-0.156),(2018.335,-0.160),(2018.347,-0.160),
    (2018.361,-0.192),(2018.370,-0.160),(2018.380,-0.144),(2018.394,-0.136),(2018.409,-0.152),(2018.425,-0.132),
    (2018.439,-0.120),(2018.448,-0.128),(2018.458,-0.144),(2018.472,-0.184),(2018.483,-0.224),(2018.497,-0.256),
    (2018.511,-0.288),(2018.522,-0.320),(2018.536,-0.336),(2018.546,-0.360),(2018.555,-0.384),(2018.565,-0.400),
    (2018.575,-0.447),(2018.585,-0.495),(2018.594,-0.575),(2018.600,-0.647),(2018.608,-0.535),(2018.616,-0.615),
    (2018.624,-0.671),(2018.633,-0.718),(2018.643,-0.798),(2018.653,-0.655),(2018.659,-0.519),(2018.667,-0.734),
    (2018.672,-0.336),(2018.682,-0.575),(2018.692,-0.655),(2018.702,-0.750),(2018.709,-0.575),(2018.717,-0.479),
    (2018.725,-0.687),(2018.735,-0.352),(2018.741,-0.463),(2018.750,-0.631),(2018.760,-0.439),(2018.770,-0.575),
    (2018.780,-0.758),(2018.789,-0.806),(2018.799,-0.862),(2018.809,-0.910),(2018.819,-0.950),(2018.828,-0.758),
    (2018.834,-0.479),(2018.842,-0.567),(2018.850,-0.336),(2018.858,-0.639),(2018.867,-0.368),(2018.877,-0.575),
    (2018.887,-0.655),(2018.897,-0.758),(2018.906,-0.822),(2018.916,-0.838),(2018.926,-0.224),(2018.936,-0.200),
    (2018.945,-0.140),(2018.955,-0.160),(2018.965,-0.200),(2018.975,-0.168),(2018.984,-0.128),
    (2019.003,-0.160),(2019.013,-0.168),(2019.027,-0.164),(2019.039,-0.132),(2019.046,-0.168),(2019.072,-0.160),
    (2019.085,-0.168),(2019.105,-0.180),(2019.117,-0.148),(2019.130,-0.168),(2019.144,-0.160),(2019.159,-0.144),
    (2019.175,-0.136),(2019.189,-0.132),(2019.202,-0.120),(2019.214,-0.132),(2019.228,-0.128),(2019.241,-0.136),
    (2019.253,-0.128),(2019.276,-0.136),(2019.292,-0.148),(2019.306,-0.152),(2019.319,-0.144),(2019.345,-0.132),
    (2019.370,-0.128),(2019.384,-0.128),(2019.397,-0.144),(2019.413,-0.128),(2019.428,-0.128),(2019.442,-0.144),
    (2019.452,-0.152),(2019.462,-0.136),(2019.471,-0.128),(2019.481,-0.152),(2019.491,-0.208),(2019.501,-0.272),
    (2019.510,-0.336),(2019.520,-0.400),(2019.530,-0.352),(2019.540,-0.304),(2019.549,-0.336),(2019.555,-0.415),
    (2019.563,-0.463),(2019.569,-0.591),(2019.575,-0.400),(2019.582,-0.463),(2019.592,-0.575),(2019.600,-0.663),
    (2019.608,-0.384),(2019.618,-0.352),(2019.627,-0.463),(2019.633,-0.559),(2019.639,-0.288),(2019.647,-0.320),
    (2019.657,-0.392),(2019.666,-0.495),(2019.676,-0.615),(2019.686,-0.718),(2019.695,-0.742),(2019.705,-0.790),
    (2019.715,-0.822),(2019.729,-0.886),(2019.736,-0.575),(2019.744,-0.336),(2019.754,-0.304),(2019.764,-0.272),
    (2019.773,-0.176),(2019.783,-0.160),(2019.793,-0.192),(2019.803,-0.156),(2019.812,-0.168),(2019.822,-0.208),
    (2019.832,-0.184),(2019.842,-0.152),(2019.851,-0.136),(2019.861,-0.152),(2019.871,-0.160),(2019.881,-0.168),
    (2019.890,-0.160),(2019.900,-0.152),(2019.916,-0.136),(2019.929,-0.152),(2019.943,-0.144),(2019.959,-0.128),
    (2019.974,-0.120),(2019.988,-0.128),(2020.002,-0.132),
    (2020.037,-0.148),(2020.052,-0.152),(2020.066,-0.152),(2020.075,-0.156),(2020.085,-0.136),(2020.095,-0.128),
    (2020.101,-0.104),(2020.111,-0.136),(2020.118,-0.128),(2020.130,-0.132),(2020.144,-0.136),(2020.153,-0.128),
    (2020.169,-0.132),(2020.183,-0.124),(2020.196,-0.128),(2020.208,-0.120),(2020.222,-0.136),(2020.235,-0.144),
    (2020.251,-0.148),(2020.266,-0.156),(2020.280,-0.168),(2020.294,-0.184),(2020.305,-0.208),(2020.313,-0.240),
    (2020.321,-0.256),(2020.329,-0.280),(2020.335,-0.176),(2020.341,-0.152),(2020.348,-0.176),(2020.358,-0.212),
    (2020.368,-0.152),(2020.378,-0.176),(2020.387,-0.224),(2020.393,-0.264),(2020.401,-0.232),(2020.411,-0.288),
    (2020.419,-0.336),(2020.426,-0.372),(2020.434,-0.256),(2020.442,-0.168),(2020.452,-0.240),(2020.461,-0.304),
    (2020.469,-0.288),(2020.477,-0.240),(2020.485,-0.280),(2020.495,-0.360),(2020.504,-0.415),(2020.514,-0.495),
    (2020.524,-0.575),(2020.534,-0.655),(2020.543,-0.726),(2020.553,-0.774),(2020.563,-0.838),(2020.572,-0.886),
    (2020.582,-0.941),(2020.592,-0.734),(2020.598,-0.368),(2020.606,-0.575),(2020.613,-0.718),(2020.621,-0.838),
    (2020.631,-0.846),(2020.641,-0.798),(2020.650,-0.878),(2020.660,-0.958),(2020.670,-0.655),(2020.676,-0.392),
    (2020.684,-0.495),(2020.691,-0.655),(2020.703,-0.734),(2020.715,-0.838),(2020.724,-0.970),(2020.734,-0.734),
    (2020.742,-0.431),(2020.748,-0.184),(2020.758,-0.256),(2020.764,-0.272),(2020.769,-0.168),(2020.777,-0.224),
    (2020.787,-0.224),(2020.797,-0.176),(2020.806,-0.200),(2020.816,-0.240),(2020.826,-0.168),(2020.836,-0.160),
    (2020.845,-0.176),(2020.855,-0.184),(2020.871,-0.192),(2020.884,-0.176),(2020.894,-0.192),(2020.910,-0.200),
    (2020.923,-0.208),(2020.933,-0.216),(2020.943,-0.184),(2020.953,-0.168),(2020.962,-0.160),(2020.982,-0.144),
    (2020.991,-0.136),(2021.001,-0.152),
    (2021.040,-0.172),(2021.050,-0.160),(2021.060,-0.148),(2021.069,-0.160),(2021.079,-0.144),(2021.089,-0.128),
    (2021.099,-0.136),(2021.118,-0.152),(2021.144,-0.152),(2021.157,-0.148),(2021.177,-0.152),(2021.190,-0.144),
    (2021.202,-0.140),(2021.216,-0.152),(2021.225,-0.160),(2021.241,-0.148),(2021.264,-0.144),(2021.284,-0.156),
    (2021.303,-0.160),(2021.313,-0.168),(2021.323,-0.160),(2021.342,-0.144),(2021.352,-0.128),(2021.372,-0.128),
    (2021.391,-0.128),(2021.401,-0.152),(2021.420,-0.140),(2021.450,-0.152),(2021.459,-0.144),(2021.469,-0.168),
    (2021.479,-0.144),(2021.498,-0.136),(2021.508,-0.128),(2021.518,-0.144),(2021.537,-0.132),(2021.547,-0.144),
    (2021.566,-0.144),(2021.586,-0.128),(2021.596,-0.124),(2021.605,-0.128),(2021.615,-0.168),(2021.625,-0.184),
    (2021.635,-0.208),(2021.644,-0.208),(2021.654,-0.240),(2021.664,-0.272),(2021.674,-0.320),(2021.683,-0.312),
    (2021.693,-0.352),(2021.703,-0.384),(2021.713,-0.408),(2021.719,-0.304),(2021.724,-0.336),(2021.732,-0.296),
    (2021.742,-0.368),(2021.748,-0.280),(2021.756,-0.344),(2021.763,-0.304),(2021.771,-0.232),(2021.779,-0.288),
    (2021.787,-0.352),(2021.795,-0.400),(2021.804,-0.439),(2021.812,-0.304),(2021.818,-0.296),(2021.826,-0.400),
    (2021.833,-0.439),(2021.841,-0.304),(2021.849,-0.160),(2021.859,-0.200),(2021.869,-0.240),(2021.878,-0.200),
    (2021.888,-0.248),(2021.898,-0.288),(2021.908,-0.336),(2021.917,-0.384),(2021.927,-0.256),(2021.933,-0.160),
    (2021.943,-0.120),(2021.956,-0.112),(2021.970,-0.128),(2021.982,-0.136),(2021.990,-0.096),(2021.997,-0.073),
    (2022.009,-0.073),
    (2022.015,-0.077),(2022.024,-0.085),(2022.044,-0.093),(2022.063,-0.100),(2022.073,-0.104),(2022.083,-0.096),
    (2022.093,-0.081),(2022.102,-0.073),(2022.122,-0.081),(2022.132,-0.065),(2022.141,-0.061),(2022.161,-0.077),
    (2022.180,-0.089),(2022.200,-0.081),(2022.210,-0.073),(2022.219,-0.085),(2022.239,-0.085),(2022.249,-0.093),
    (2022.258,-0.085),(2022.268,-0.065),(2022.274,-0.057),(2022.282,-0.085),(2022.293,-0.073),(2022.307,-0.077),
    (2022.317,-0.065),(2022.327,-0.085),(2022.336,-0.073),(2022.346,-0.065),(2022.356,-0.069),(2022.366,-0.081),
    (2022.375,-0.096),(2022.385,-0.104),(2022.395,-0.081),(2022.405,-0.176),(2022.414,-0.224),(2022.424,-0.192),
    (2022.434,-0.168),(2022.444,-0.112),(2022.449,-0.184),(2022.457,-0.272),(2022.465,-0.320),(2022.473,-0.368),
    (2022.479,-0.336),(2022.484,-0.352),(2022.492,-0.344),(2022.498,-0.256),(2022.504,-0.212),(2022.512,-0.272),
    (2022.522,-0.376),(2022.531,-0.495),(2022.541,-0.615),(2022.551,-0.695),(2022.561,-0.726),(2022.570,-0.766),
    (2022.580,-0.798),(2022.590,-0.830),(2022.600,-0.862),(2022.609,-0.894),(2022.619,-0.926),(2022.629,-0.954),
    (2022.635,-0.734),(2022.640,-0.384),(2022.648,-0.575),(2022.656,-0.687),(2022.662,-0.336),(2022.668,-0.495),
    (2022.675,-0.575),(2022.683,-0.471),(2022.691,-0.583),(2022.699,-0.320),(2022.707,-0.447),(2022.714,-0.511),
    (2022.722,-0.304),(2022.730,-0.400),(2022.738,-0.495),(2022.746,-0.543),(2022.751,-0.304),(2022.757,-0.112),
    (2022.765,-0.168),(2022.775,-0.152),(2022.785,-0.120),(2022.794,-0.160),(2022.804,-0.128),(2022.814,-0.144),
    (2022.824,-0.176),(2022.833,-0.152),(2022.843,-0.160),(2022.853,-0.144),(2022.863,-0.128),(2022.872,-0.136),
    (2022.882,-0.089),(2022.892,-0.081),(2022.902,-0.096),(2022.911,-0.112),(2022.921,-0.120),(2022.941,-0.128),
    (2022.960,-0.136),(2022.970,-0.112),(2022.980,-0.061),(2022.989,-0.081),(2022.999,-0.065),
    (2023.009,-0.096),(2023.018,-0.089),(2023.028,-0.096),(2023.038,-0.081),(2023.048,-0.073),(2023.057,-0.089),
    (2023.077,-0.096),(2023.087,-0.104),(2023.096,-0.096),(2023.116,-0.112),(2023.126,-0.104),(2023.135,-0.081),
    (2023.145,-0.104),(2023.155,-0.093),(2023.174,-0.096),(2023.184,-0.104),(2023.194,-0.073),(2023.204,-0.081),
    (2023.223,-0.077),(2023.233,-0.093),(2023.243,-0.081),(2023.252,-0.065),(2023.272,-0.089),(2023.282,-0.073),
    (2023.301,-0.096),(2023.321,-0.081),(2023.340,-0.096),(2023.360,-0.077),(2023.379,-0.093),(2023.389,-0.096),
    (2023.399,-0.112),(2023.408,-0.160),(2023.418,-0.216),(2023.428,-0.272),(2023.438,-0.320),(2023.447,-0.360),
    (2023.457,-0.400),(2023.467,-0.431),(2023.475,-0.455),(2023.481,-0.240),(2023.486,-0.352),(2023.494,-0.368),
    (2023.502,-0.296),(2023.510,-0.392),(2023.517,-0.336),(2023.525,-0.415),(2023.531,-0.256),(2023.537,-0.336),
    (2023.545,-0.415),(2023.554,-0.495),(2023.564,-0.543),(2023.570,-0.567),(2023.578,-0.376),(2023.584,-0.288),
    (2023.593,-0.136),(2023.603,-0.120),(2023.611,-0.176),(2023.619,-0.224),(2023.627,-0.272),(2023.634,-0.336),
    (2023.642,-0.415),(2023.652,-0.567),(2023.658,-0.471),(2023.666,-0.280),(2023.673,-0.400),(2023.681,-0.495),
    (2023.691,-0.615),(2023.701,-0.631),(2023.710,-0.655),(2023.720,-0.495),(2023.730,-0.400),(2023.736,-0.495),
    (2023.744,-0.615),(2023.751,-0.655),(2023.759,-0.687),(2023.769,-0.734),(2023.779,-0.766),(2023.788,-0.798),
    (2023.794,-0.806),(2023.800,-0.575),(2023.808,-0.575),(2023.814,-0.439),(2023.821,-0.256),(2023.829,-0.160),
    (2023.837,-0.128),(2023.847,-0.112),(2023.857,-0.108),(2023.866,-0.096),(2023.876,-0.089),(2023.886,-0.085),
    (2023.896,-0.096),(2023.905,-0.104),
]

series_names = ['Gründlenried', 'Wildseemoor', 'Taubenmoos']
colors = ['#ff6a00', '#0a98f5', '#006633']
years = list(range(2014, 2024))
ytick_vals = [0.2, 0, -0.2, -0.4, -0.6, -0.8, -1]
ytick_text = ['0,2', '0', '-0,2', '-0,4', '-0,6', '-0,8', '-1']
x_start, x_end = 2014.12, 2023.976
source = 'Datenquelle: LUBW. Datenstand: März 2024.'

bg = '#fdfdf8'
grid_c = '#a6a6a6'
fs = 19.5

fig = plt.figure(figsize=(20, 10.05), dpi=100, facecolor=bg)
ax = fig.add_axes([0.0765, 0.2408, 0.843, 0.7450])
ax.set_facecolor(bg)

for data, name, c in zip([gruendlenried, wildseemoor, taubenmoos], series_names, colors):
    arr = np.array(data, dtype=float)
    ax.plot(arr[:, 0], arr[:, 1], color=c, lw=2.3, label=name, solid_joinstyle='round')

ax.set_xlim(x_start, x_end)
ax.set_ylim(-1, 0.2)

ax.set_yticks(ytick_vals)
ax.set_yticklabels(ytick_text, fontsize=fs)
ax.tick_params(axis='y', length=0, pad=20)

# year borders = major ticks (unlabelled), year names on minor ticks
ax.set_xticks([x_start] + years[1:] + [x_end])
ax.set_xticklabels([])
ax.tick_params(axis='x', which='major', length=11, width=1.5, color='black', direction='out')
ax.set_xticks([y + 0.5 for y in years], minor=True)
ax.set_xticklabels([str(y) for y in years], minor=True, fontsize=fs)
ax.tick_params(axis='x', which='minor', length=0, pad=25)

ax.grid(True, which='major', color=grid_c, lw=1.5)
for s in ['left', 'top', 'right']:
    ax.spines[s].set_color(grid_c)
    ax.spines[s].set_linewidth(1.5)
ax.spines['bottom'].set_color('black')
ax.spines['bottom'].set_linewidth(1.5)
ax.set_axisbelow(True)

ax.set_ylabel('Meter unterhalb der Geländeoberkante', fontsize=22.5)
ax.yaxis.set_label_coords(-0.051, 0.5)

fig.legend(loc='center', bbox_to_anchor=(0.5, 0.118), ncol=3, frameon=False, fontsize=20.5,
           handlelength=1.45, handletextpad=1.25, columnspacing=3.1)

fig.text(0.056, 0.036, source, fontsize=fs, va='center', ha='left')

fig.savefig('out.png', dpi=100, facecolor=bg)
